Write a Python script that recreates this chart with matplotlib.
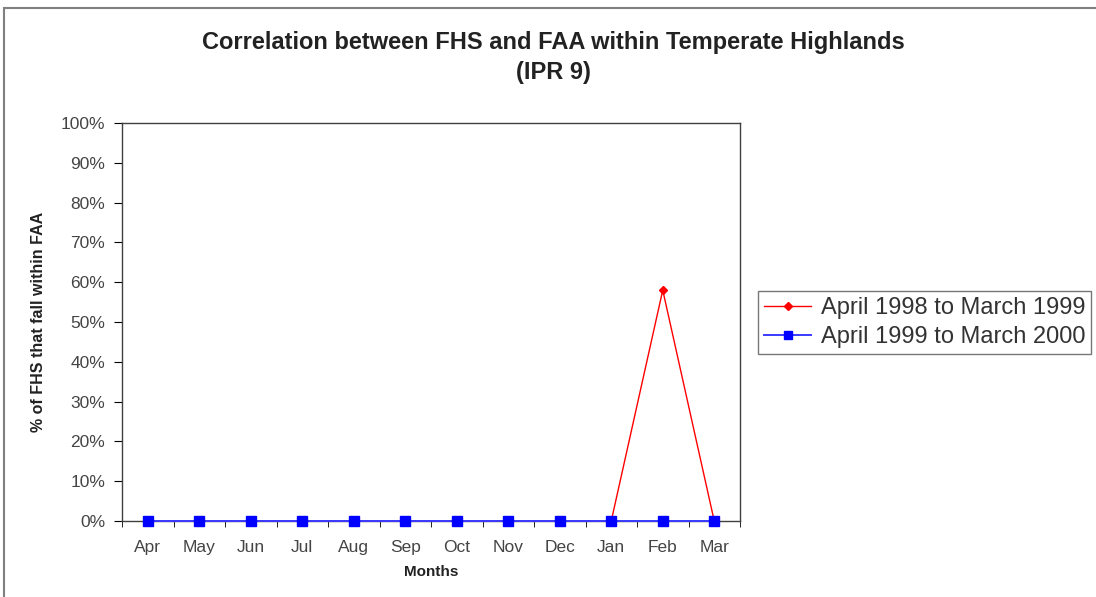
import matplotlib.pyplot as plt
from matplotlib.patches import Rectangle
from matplotlib.ticker import PercentFormatter

months = ['Apr', 'May', 'Jun', 'Jul', 'Aug', 'Sep', 'Oct', 'Nov', 'Dec', 'Jan', 'Feb', 'Mar']
pct_1998_99 = [0, 0, 0, 0, 0, 0, 0, 0, 0, 0, 58, 0]
pct_1999_00 = [0, 0, 0, 0, 0, 0, 0, 0, 0, 0, 0, 0]

plt.rcParams['font.family'] = ['Liberation Sans', 'DejaVu Sans']

fig = plt.figure(figsize=(10.96, 5.97), dpi=100)
# outer chart border
fig.patches.append(Rectangle((4 / 1096, -0.01), 1.2, (597 - 8) / 597 + 0.01,
                             transform=fig.transFigure, fill=False,
                             edgecolor='#808080', linewidth=1.5))

ax = fig.add_axes([122 / 1096, 76 / 597, 618 / 1096, 398 / 597])
x = list(range(len(months)))

ax.plot(x, pct_1998_99, color='red', linewidth=1, marker='D', markersize=4,
        label='April 1998 to March 1999', zorder=2, clip_on=False)
ax.plot(x, pct_1999_00, color='#3a3aff', linewidth=1.4, marker='s', markersize=7,
        markerfacecolor='blue', markeredgecolor='blue',
        label='April 1999 to March 2000', zorder=3, clip_on=False)

ax.set_xlim(-0.5, len(months) - 0.5)
ax.set_ylim(0, 100)
ax.set_yticks(range(0, 101, 10))
ax.yaxis.set_major_formatter(PercentFormatter(decimals=0))

# category ticks between months, labels centred
ax.set_xticks(x)
ax.set_xticklabels(months)
ax.set_xticks([i - 0.5 for i in range(len(months) + 1)], minor=True)
ax.tick_params(axis='x', which='major', length=0, pad=14, labelsize=12.5, labelcolor='#444444')
ax.tick_params(axis='x', which='minor', length=4, direction='out')
ax.tick_params(axis='y', length=6, direction='out', pad=6, labelsize=12.5, labelcolor='#444444')

for s in ax.spines.values():
    s.set_color('#404040')
    s.set_linewidth(1)

ax.set_xlabel('Months', fontsize=11, fontweight='bold', labelpad=7, color='#222222')
ax.set_ylabel('% of FHS that fall within FAA', fontsize=11.5, fontweight='bold',
              labelpad=11, color='#222222')

fig.text(553 / 1096, 1 - 42 / 597, 'Correlation between FHS and FAA within Temperate Highlands',
         ha='center', va='center', fontsize=17, fontweight='bold', color='#222222')
fig.text(553 / 1096, 1 - 72 / 597, '(IPR 9)',
         ha='center', va='center', fontsize=17, fontweight='bold', color='#222222')

leg = ax.legend(loc='upper left', bbox_to_anchor=(758 / 1096, 1 - 291 / 597),
                bbox_transform=fig.transFigure, fontsize=17, frameon=True,
                fancybox=False, edgecolor='#555555', handlelength=2.0,
                borderpad=0.25, labelspacing=0.3, handletextpad=0.4,
                borderaxespad=0, markerscale=0.9)
leg.get_frame().set_linewidth(1)
for t in leg.get_texts():
    t.set_color('#333333')

fig.savefig('out.png', dpi=100)
